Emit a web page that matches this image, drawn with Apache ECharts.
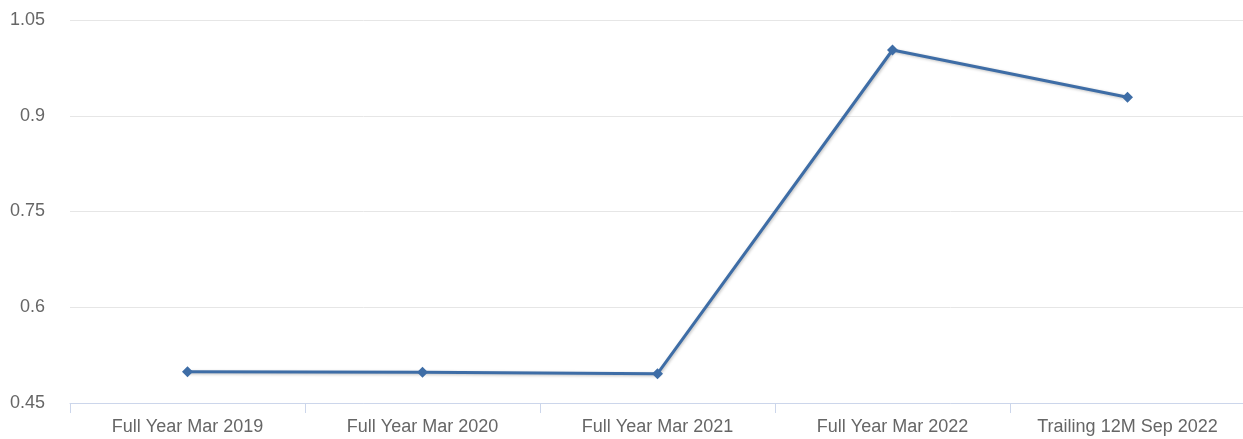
<!DOCTYPE html>
<html><head><meta charset="utf-8">
<script src="https://cdn.jsdelivr.net/npm/echarts@6/dist/echarts.min.js"></script>
<style>html,body{margin:0;padding:0;background:#fff;overflow:hidden}#c{width:1243px;height:439px}</style>
</head><body><div id="c"></div>
<script>
const categories = ["Full Year Mar 2019","Full Year Mar 2020","Full Year Mar 2021","Full Year Mar 2022","Trailing 12M Sep 2022"];
const values = [0.499, 0.498, 0.496, 1.003, 0.929];
const yTicks = {min: 0.45, max: 1.05, interval: 0.15};

const chart = echarts.init(document.getElementById('c'), null, {renderer: 'canvas'});
chart.setOption({
  animation: false,
  grid: {left: 70, width: 1175, top: 20, bottom: 36, containLabel: false, outerBoundsMode: 'none'},
  xAxis: {
    type: 'category', data: categories, boundaryGap: true,
    axisLine: {lineStyle: {color: '#ccd6eb', width: 1}},
    axisTick: {show: true, length: 10, lineStyle: {color: '#ccd6eb'}},
    axisLabel: {color: '#666666', fontSize: 18, margin: 15, fontFamily: 'Liberation Sans, Arial, sans-serif', interval: 0}
  },
  yAxis: {
    type: 'value', min: yTicks.min, max: yTicks.max, interval: yTicks.interval,
    axisLine: {show: false}, axisTick: {show: false},
    splitLine: {lineStyle: {color: '#e6e6e6', width: 1}},
    axisLabel: {color: '#666666', fontSize: 18, margin: 25, padding: [5, 0, 0, 0], fontFamily: 'Liberation Sans, Arial, sans-serif',
      formatter: v => String(parseFloat(v.toFixed(2)))}
  },
  series: [{
    type: 'line', data: values,
    symbol: 'diamond', symbolSize: 11, showSymbol: true,
    lineStyle: {color: '#3e6da6', width: 3, shadowColor: 'rgba(0,0,0,0.25)', shadowBlur: 3, shadowOffsetX: 1, shadowOffsetY: 1},
    itemStyle: {color: '#3e6da6'}
  }]
});
</script></body></html>
